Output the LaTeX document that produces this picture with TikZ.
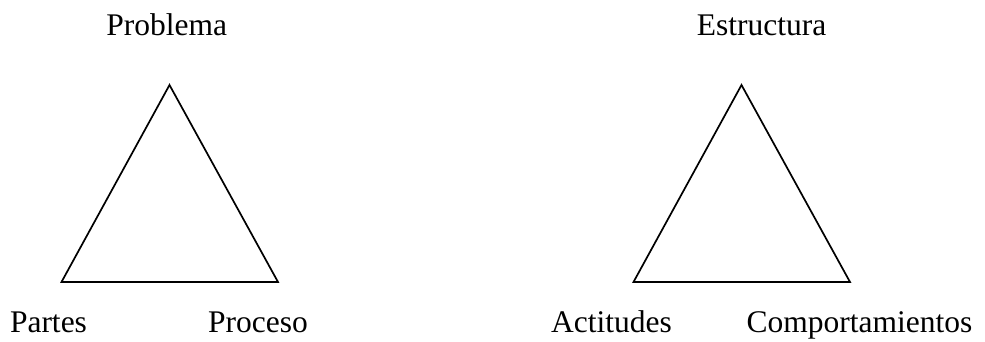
\documentclass[tikz,border=0pt]{standalone}
\usepackage{fontspec}
\setmainfont{Liberation Serif}
\usepackage{tikz}
\usetikzlibrary{positioning}

\begin{document}
\begin{tikzpicture}[x=1pt, y=-1pt,
    side/.style={line width=1.7pt, line join=miter},
    word/.style={anchor=base, inner sep=0pt, font=\fontsize{31.5}{36}\selectfont},
]
\useasboundingbox (0,0) rectangle (985,341);
% left triangle
\coordinate (pTop) at (169.5,85);
\coordinate (pLeft) at (61.5,282);
\coordinate (pRight) at (278,282);
\draw[side] (pTop) -- (pLeft) -- (pRight) -- cycle;
\node[word] (problema) at (166.7,35) {Problema};
\node[word] (partes) at (48.5,332) {Partes};
\node[word] (proceso) at (258,332) {Proceso};
% right triangle
\coordinate (eTop) at (741.5,85);
\coordinate (eLeft) at (633.5,282);
\coordinate (eRight) at (850,282);
\draw[side] (eTop) -- (eLeft) -- (eRight) -- cycle;
\node[word] (estructura) at (761.5,35) {Estructura};
\node[word] (actitudes) at (611.5,332) {Actitudes};
\node[word] (comport) at (859.5,332) {Comportamientos};
\end{tikzpicture}
\end{document}
